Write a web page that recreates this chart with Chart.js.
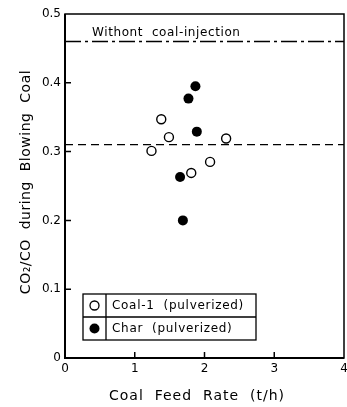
<!DOCTYPE html>
<html>
<head>
<meta charset="utf-8">
<script src="https://cdn.jsdelivr.net/npm/chart.js@4"></script>
<style>
  html, body { margin: 0; padding: 0; background: #fff; }
  #wrap { width: 347px; height: 407px; }
</style>
</head>
<body>
<div id="wrap"><canvas id="c" width="347" height="407"></canvas></div>
<script>
// ---- data ----
const coalFeed   = [1.38, 1.49, 1.24, 2.31, 2.08, 1.81];
const coalRatio  = [0.347, 0.321, 0.301, 0.319, 0.285, 0.269];
const charFeed   = [1.87, 1.77, 1.89, 1.65, 1.69];
const charRatio  = [0.395, 0.377, 0.329, 0.263, 0.200];
const noInjection = 0.46;   // dash-dot reference line
const meanLevel   = 0.31;   // dashed reference line
const xTicks = [0, 1, 2, 3, 4];
const yTicks = [0, 0.1, 0.2, 0.3, 0.4, 0.5];

const FONT = "DejaVu Sans";
const toPts = (xs, ys) => xs.map((x, i) => ({ x: x, y: ys[i] }));

// frame, inward ticks, axis titles, note and boxed legend
const decor = {
  id: "decor",
  afterDraw(chart) {
    const ctx = chart.ctx;
    const a = chart.chartArea;
    const xs = chart.scales.x, ys = chart.scales.y;
    ctx.save();
    ctx.strokeStyle = "#000";
    ctx.setLineDash([]);

    // frame
    ctx.lineWidth = 1.5;
    ctx.strokeRect(a.left, a.top, a.right - a.left, a.bottom - a.top);
    ctx.lineWidth = 2;
    ctx.beginPath();
    ctx.moveTo(a.left, a.top); ctx.lineTo(a.left, a.bottom); ctx.lineTo(a.right, a.bottom);
    ctx.stroke();

    // inward ticks
    ctx.lineWidth = 1.5;
    ctx.beginPath();
    xTicks.slice(1, -1).forEach(v => {
      const p = xs.getPixelForValue(v);
      ctx.moveTo(p, a.bottom); ctx.lineTo(p, a.bottom - 6);
    });
    yTicks.slice(1, -1).forEach(v => {
      const p = ys.getPixelForValue(v);
      ctx.moveTo(a.left, p); ctx.lineTo(a.left + 6, p);
    });
    ctx.stroke();

    // note above the dash-dot line
    ctx.fillStyle = "#000";
    ctx.font = "12px '" + FONT + "'";
    ctx.letterSpacing = "0.6px";
    ctx.textAlign = "left";
    ctx.textBaseline = "middle";
    ctx.fillText("Withont  coal-injection", 92, ys.getPixelForValue(0.473));

    // axis titles
    ctx.font = "14px '" + FONT + "'";
    ctx.letterSpacing = "1px";
    ctx.textAlign = "center";
    ctx.fillText("Coal  Feed  Rate  (t/h)", 197, 396);
    ctx.save();
    ctx.letterSpacing = "0.5px";
    ctx.translate(26, 182);
    ctx.rotate(-Math.PI / 2);
    ctx.fillText("CO\u2082/CO  during  Blowing  Coal", 0, 0);
    ctx.restore();

    // boxed legend
    const lx0 = 83, lx1 = 256, ly0 = 294, ly1 = 340, lmid = 317, ldiv = 106;
    ctx.lineWidth = 1.3;
    ctx.strokeRect(lx0, ly0, lx1 - lx0, ly1 - ly0);
    ctx.beginPath();
    ctx.moveTo(lx0, lmid); ctx.lineTo(lx1, lmid);
    ctx.moveTo(ldiv, ly0); ctx.lineTo(ldiv, ly1);
    ctx.stroke();
    ctx.beginPath();
    ctx.arc(94.5, 305.5, 4.5, 0, Math.PI * 2);
    ctx.fillStyle = "#fff"; ctx.fill(); ctx.stroke();
    ctx.beginPath();
    ctx.arc(94.5, 328.5, 5, 0, Math.PI * 2);
    ctx.fillStyle = "#000"; ctx.fill();
    ctx.font = "12px '" + FONT + "'";
    ctx.letterSpacing = "0.7px";
    ctx.textAlign = "left";
    ctx.fillText("Coal-1  (pulverized)", 112, 306);
    ctx.fillText("Char  (pulverized)", 112, 329);
    ctx.restore();
  }
};

new Chart(document.getElementById("c"), {
  type: "scatter",
  data: {
    datasets: [
      {
        type: "line",
        data: [{ x: 0, y: noInjection }, { x: 4, y: noInjection }],
        borderColor: "#000", borderWidth: 1.3,
        borderDash: [16, 4, 3, 4], pointRadius: 0
      },
      {
        type: "line",
        data: [{ x: 0, y: meanLevel }, { x: 4, y: meanLevel }],
        borderColor: "#000", borderWidth: 1.3,
        borderDash: [8, 5], pointRadius: 0
      },
      {
        label: "Coal-1 (pulverized)",
        data: toPts(coalFeed, coalRatio),
        pointRadius: 4.5, pointBorderWidth: 1.4,
        pointBackgroundColor: "#fff", pointBorderColor: "#000"
      },
      {
        label: "Char (pulverized)",
        data: toPts(charFeed, charRatio),
        pointRadius: 5, pointBorderWidth: 0,
        pointBackgroundColor: "#000", pointBorderColor: "#000"
      }
    ]
  },
  options: {
    responsive: false,
    animation: false,
    layout: { autoPadding: false, padding: { top: 14, right: 3, left: 0, bottom: 0 } },
    plugins: { legend: { display: false }, tooltip: { enabled: false } },
    scales: {
      x: {
        type: "linear", min: 0, max: 4,
        afterBuildTicks: s => { s.ticks = xTicks.map(v => ({ value: v })); },
        afterFit: s => { s.height = 49; s.paddingLeft = 0; s.paddingRight = 0; },
        grid: { display: false, drawTicks: false },
        border: { display: false },
        ticks: { color: "#000", padding: 4, maxRotation: 0, font: { family: FONT, size: 12 } }
      },
      y: {
        type: "linear", min: 0, max: 0.5,
        afterBuildTicks: s => { s.ticks = yTicks.map(v => ({ value: v })); },
        afterFit: s => { s.width = 65; s.paddingTop = 0; s.paddingBottom = 0; },
        grid: { display: false, drawTicks: false },
        border: { display: false },
        ticks: { color: "#000", padding: 4, font: { family: FONT, size: 12 } }
      }
    }
  },
  plugins: [decor]
});
</script>
</body>
</html>
